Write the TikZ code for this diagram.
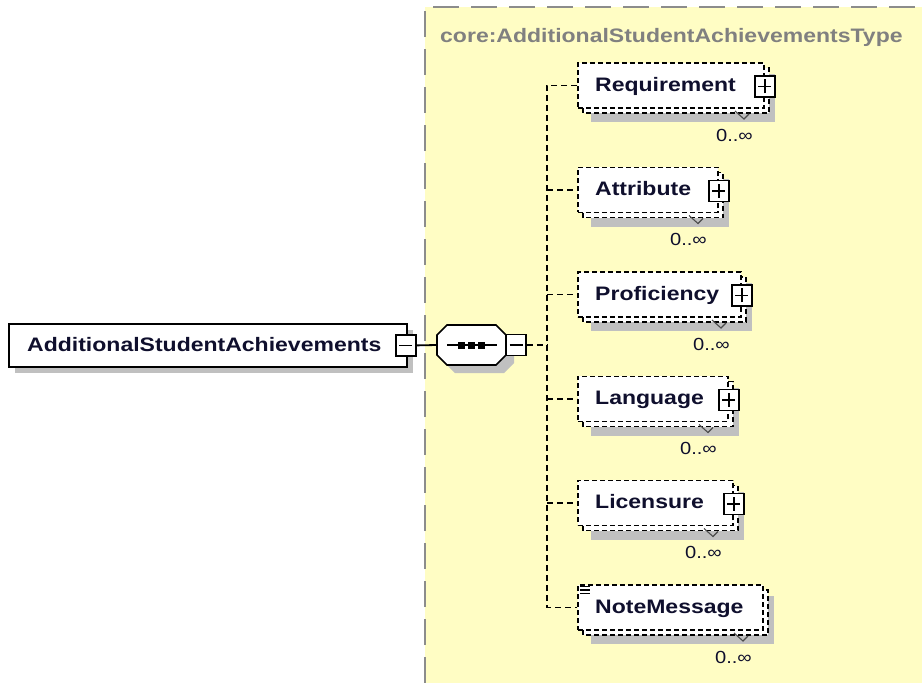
\documentclass[tikz,border=0pt]{standalone}
\usepackage{fontspec}
\setmainfont{Liberation Sans}
\newfontfamily\namefont[FakeStretch=1.18]{Liberation Sans}
\newfontfamily\multfont[FakeStretch=1.15]{Liberation Sans}
\definecolor{ybg}{RGB}{255,253,196}
\definecolor{ybd}{RGB}{140,140,140}
\definecolor{shd}{RGB}{192,192,192}
\definecolor{txt}{RGB}{15,15,45}
\definecolor{tgrey}{RGB}{128,128,128}
\tikzset{
  ebox/.style={draw=black, fill=white, line width=1.8pt, dash pattern=on 5pt off 3pt},
  enode/.style={ebox, rectangle, inner sep=0pt, anchor=north west},
  ename/.style={text=txt, inner sep=0pt, anchor=base west, font=\namefont\bfseries\fontsize{19.5}{20}\selectfont},
  mult/.style={text=txt, inner sep=0pt, anchor=base east, font=\multfont\fontsize{17.5}{18}\selectfont},
  notch/.style={draw=black!70, line width=1.1pt},
  pm/.style={rectangle, draw=black, fill=white, line width=1.7pt, solid, minimum width=20pt, minimum height=21pt, inner sep=0pt},
  plus/.style={pm, path picture={\draw[line width=1.8pt] ([xshift=-6.5pt]path picture bounding box.center) -- ([xshift=6.5pt]path picture bounding box.center) ([yshift=-7pt]path picture bounding box.center) -- ([yshift=7pt]path picture bounding box.center);}},
  minus/.style={pm, path picture={\draw[line width=1.8pt] ([xshift=-6.5pt]path picture bounding box.center) -- ([xshift=6.5pt]path picture bounding box.center);}},
  dashc/.style={draw=black, line width=1.8pt, dash pattern=on 6pt off 4pt},
  solidc/.style={draw=black, line width=1.8pt},
}
% #1 name, #2 x, #3 y, #4 w, #5 h, #6 text
\newcommand\xelem[6]{%
  \fill[shd] (#2+14,#3+12) rectangle (#2+#4+12,#3+#5+15);
  \draw[ebox] (#2+6,#3+6) rectangle (#2+#4+6,#3+#5+6);
  \draw[notch] (#2+#4-28,#3+#5+4) -- ++(9,8) -- ++(5,-5);
  \node[enode, minimum width=#4pt, minimum height=#5pt] (#1) at (#2,#3) {};
  \node[ename] (#1t) at (595,#3+#5/2+6.5) {#6};
  \node[mult] (#1m) at (#2+#4-10,#3+#5+34) {0..∞};
}
\begin{document}
\begin{tikzpicture}[x=1pt,y=-1pt]
\useasboundingbox (0,0) rectangle (922,683);
\fill[white] (0,0) rectangle (922,683);
% complex type area
\fill[ybg] (425,7) rectangle (922,683);
\draw[ybd, line width=2pt, dash pattern=on 26pt off 12pt] (425,683) -- (425,7) -- (922,7);
\node[text=tgrey, inner sep=0pt, anchor=base west, font=\namefont\bfseries\fontsize{19.5}{20}\selectfont] (typelabel) at (440,42) {core:AdditionalStudentAchievementsType};

% root element
\fill[shd] (15,330) rectangle (413,373);
\node[rectangle, draw=black, fill=white, line width=1.8pt, inner sep=0pt, anchor=north west, minimum width=398pt, minimum height=43pt] (root) at (8,323) {};
\node[ename] (roott) at (27,351) {AdditionalStudentAchievements};
\node[minus] (rootpm) at ([xshift=-2pt]root.east) {};

% sequence compositor
\fill[shd] (455,333) -- (504,333) -- (514,343) -- (514,363) -- (504,373) -- (455,373) -- (445,363) -- (445,343) -- cycle;
\draw[fill=white, line width=1.7pt] (447,325) -- (496,325) -- (506,335) -- (506,355) -- (496,365) -- (447,365) -- (437,355) -- (437,335) -- cycle;
\node[inner sep=0pt, minimum width=69pt, minimum height=40pt] (seq) at (471.5,345) {};
\draw[line width=1.8pt] (447,345) -- (497,345);
\fill (458,341.5) rectangle (465,348.5);
\fill (468,341.5) rectangle (475,348.5);
\fill (478,341.5) rectangle (485,348.5);
\node[minus] (seqpm) at (516,345) {};
\draw[solidc] (rootpm.east) -- (seq.west);

% child elements
\xelem{req}{577}{62}{186}{45}{Requirement}
\xelem{att}{577}{166.5}{140}{45}{Attribute}
\xelem{prof}{577}{271}{163}{45}{Proficiency}
\xelem{lang}{577}{375.5}{150}{45}{Language}
\xelem{lic}{577}{479.5}{155}{45}{Licensure}
\xelem{note}{577}{584}{185}{45}{NoteMessage}

\node[plus] (reqp) at ([yshift=-1pt]req.east) {};
\node[plus] (attp) at ([yshift=-1pt]att.east) {};
\node[plus] (profp) at ([yshift=-1pt]prof.east) {};
\node[plus] (langp) at ([yshift=-1pt]lang.east) {};
\node[plus] (licp) at ([yshift=-1pt]lic.east) {};
% note icon
\draw[line width=1.2pt] (580,586.5) -- (590,586.5) (580,590) -- (590,590) (580,593.5) -- (590,593.5);

% connectors
\coordinate (trunk) at (547,345);
\draw[dashc] (seqpm.east) -- (trunk);
\draw[dashc] (req.west) -| (trunk |- note.west) -- (note.west);
\draw[dashc] (trunk |- att.west) -- (att.west);
\draw[dashc] (trunk |- prof.west) -- (prof.west);
\draw[dashc] (trunk |- lang.west) -- (lang.west);
\draw[dashc] (trunk |- lic.west) -- (lic.west);
\end{tikzpicture}
\end{document}
